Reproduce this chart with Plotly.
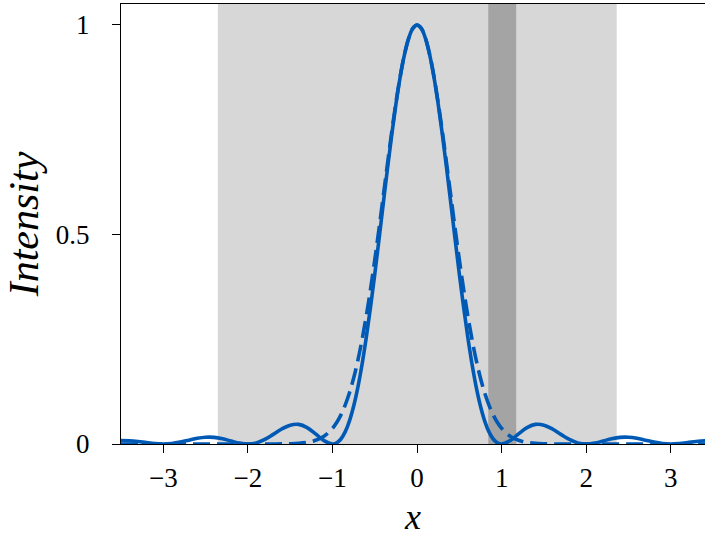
import plotly.graph_objects as go

# Sample positions along x (finer spacing across the central peak)
x = [-3.5, -3.4, -3.3, -3.2, -3.1, -3.0, -2.9, -2.8, -2.7, -2.6, -2.5, -2.4, -2.3,
     -2.2, -2.1, -2.0, -1.9, -1.8, -1.7, -1.6, -1.5, -1.4, -1.3, -1.2, -1.1, -1.0,
     -0.95, -0.9, -0.85, -0.8, -0.75, -0.7, -0.65, -0.6, -0.55, -0.5, -0.45, -0.4, -0.35,
     -0.3, -0.25, -0.2, -0.15, -0.1, -0.05, 0.0, 0.05, 0.1, 0.15, 0.2, 0.25, 0.3, 0.35,
     0.4, 0.45, 0.5, 0.55, 0.6, 0.65, 0.7, 0.75, 0.8, 0.85, 0.9, 0.95,
     1.0, 1.1, 1.2, 1.3, 1.4, 1.5, 1.6, 1.7, 1.8, 1.9, 2.0, 2.1, 2.2, 2.3,
     2.4, 2.5, 2.6, 2.7, 2.8, 2.9, 3.0, 3.1, 3.2, 3.3, 3.4, 3.5]

# Diffraction pattern (solid curve)
intensity_solid = [0.0083, 0.0079, 0.0061, 0.0034, 0.0010, 0.0, 0.0012, 0.0045, 0.0091,
                   0.0136, 0.0162, 0.0159, 0.0125, 0.0072, 0.0022, 0.0, 0.0027, 0.0108,
                   0.0229, 0.0358, 0.0450, 0.0468, 0.0392, 0.0243, 0.0080, 0.0,
                   0.0027, 0.0119, 0.0289, 0.0547, 0.0901, 0.1353, 0.1904, 0.2546, 0.3267,
                   0.4053, 0.4881, 0.5728, 0.6566, 0.7368, 0.8106, 0.8751, 0.9281, 0.9675,
                   0.9918, 1.0, 0.9918, 0.9675, 0.9281, 0.8751, 0.8106, 0.7368, 0.6566,
                   0.5728, 0.4881, 0.4053, 0.3267, 0.2546, 0.1904, 0.1353, 0.0901, 0.0547,
                   0.0289, 0.0119, 0.0027,
                   0.0, 0.0080, 0.0243, 0.0392, 0.0468, 0.0450, 0.0358, 0.0229, 0.0108,
                   0.0027, 0.0, 0.0022, 0.0072, 0.0125, 0.0159, 0.0162, 0.0136, 0.0091,
                   0.0045, 0.0012, 0.0, 0.0010, 0.0034, 0.0061, 0.0079, 0.0083]

# Gaussian approximation (dashed curve)
intensity_dashed = [0.0, 0.0, 0.0, 0.0, 0.0, 0.0, 0.0, 0.0, 0.0,
                    0.0, 0.0, 0.0, 0.0, 0.0, 0.0, 0.0, 0.0, 0.0,
                    0.0001, 0.0002, 0.0006, 0.0016, 0.0039, 0.0088, 0.0187, 0.0373,
                    0.0513, 0.0696, 0.0929, 0.1218, 0.1571, 0.1995, 0.2491, 0.3060, 0.3697,
                    0.4394, 0.5137, 0.5908, 0.6683, 0.7437, 0.8141, 0.8767, 0.9287, 0.9676,
                    0.9918, 1.0, 0.9918, 0.9676, 0.9287, 0.8767, 0.8141, 0.7437, 0.6683,
                    0.5908, 0.5137, 0.4394, 0.3697, 0.3060, 0.2491, 0.1995, 0.1571, 0.1218,
                    0.0929, 0.0696, 0.0513,
                    0.0373, 0.0187, 0.0088, 0.0039, 0.0016, 0.0006, 0.0002, 0.0001, 0.0,
                    0.0, 0.0, 0.0, 0.0, 0.0, 0.0, 0.0, 0.0, 0.0,
                    0.0, 0.0, 0.0, 0.0, 0.0, 0.0, 0.0, 0.0]

# Shaded x-intervals
wide_band = [-2.355, 2.36]
narrow_band = [0.842, 1.172]

x_ticks = [-3, -2, -1, 0, 1, 2, 3]
y_ticks = [0, 0.5, 1]
y_tick_text = ["0", "0.5", "1"]

BLUE = "#005ab5"
FONT = "Liberation Serif"

fig = go.Figure()

fig.add_shape(type="rect", xref="x", yref="paper", x0=wide_band[0], x1=wide_band[1],
              y0=0, y1=1, fillcolor="#d7d7d7", line_width=0, layer="below")
fig.add_shape(type="rect", xref="x", yref="paper", x0=narrow_band[0], x1=narrow_band[1],
              y0=0, y1=1, fillcolor="#a4a4a4", line_width=0, layer="below")

fig.add_trace(go.Scatter(x=x, y=intensity_dashed, mode="lines",
                         line=dict(color=BLUE, width=3.6, dash="17px,7px", shape="spline",
                                   smoothing=1.0),
                         showlegend=False))
fig.add_trace(go.Scatter(x=x, y=intensity_solid, mode="lines",
                         line=dict(color=BLUE, width=3.6, shape="spline", smoothing=1.0),
                         showlegend=False))

fig.update_layout(
    width=705, height=537, autosize=False,
    margin=dict(l=121, r=0, t=4, b=93),
    paper_bgcolor="white", plot_bgcolor="white",
    font=dict(family=FONT, size=27, color="black"),
    xaxis=dict(range=[-3.5, 3.404], tickvals=x_ticks, ticks="outside", ticklen=8,
               tickwidth=1.3, tickcolor="black", showline=True, linecolor="black",
               linewidth=1.3, mirror=True, showgrid=False, zeroline=False,
               ticklabelstandoff=1,
               title=dict(text="<i>x</i>", font=dict(size=36), standoff=12)),
    yaxis=dict(range=[0, 1.05], tickvals=y_ticks, ticktext=y_tick_text, ticks="outside",
               ticklen=8, tickwidth=1.3, tickcolor="black", showline=True,
               linecolor="black", linewidth=1.3, mirror=False, showgrid=False,
               zeroline=False, ticklabelstandoff=17,
               title=dict(text="<i>Intensity</i>", font=dict(size=42), standoff=4)),
)

fig.write_html("out.html")
